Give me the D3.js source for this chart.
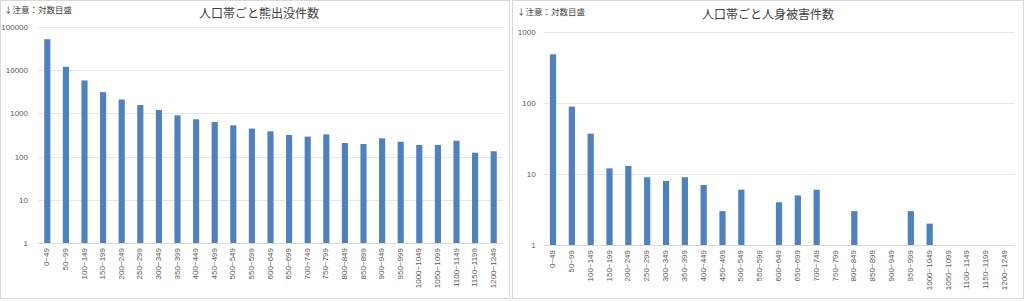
<!DOCTYPE html>
<html>
<head>
<meta charset="utf-8">
<script src="https://cdn.jsdelivr.net/npm/d3@7"></script>
<style>
  html, body { margin: 0; padding: 0; background: #fff; }
  svg { display: block; }
  text { font-family: "Noto Sans CJK JP", "Noto Sans", sans-serif; }
</style>
</head>
<body>
<svg id="chart" width="1024" height="301"></svg>
<script>
const categories = ["0~49","50~99","100~149","150~199","200~249","250~299","300~349","350~399","400~449","450~499","500~549","550~599","600~649","650~699","700~749","750~799","800~849","850~899","900~949","950~999","1000~1049","1050~1099","1100~1149","1150~1199","1200~1249"];
const bearSightings = [52000,12000,5800,3100,2100,1560,1200,900,730,630,530,445,385,316,290,327,206,196,265,221,186,186,233,123,133];
const humanInjuries = [485,89,37,12,13,9,8,9,7,3,6,null,4,5,6,null,3,null,null,3,2,null,null,null,null];
const leftTicks = [1,10,100,1000,10000,100000];
const rightTicks = [1,10,100,1000];
const leftTitle = "人口帯ごと熊出没件数";
const rightTitle = "人口帯ごと人身被害件数";
const noteText = "↓注意：対数目盛";

const svg = d3.select("#chart");

function panel(cfg) {
  const g = svg.append("g");
  g.append("rect")
    .attr("x", cfg.px + 0.5).attr("y", 0.5)
    .attr("width", cfg.pw - 1).attr("height", 298)
    .attr("fill", "#fff").attr("stroke", "#d9d9d9").attr("stroke-width", 1);

  const x = d3.scaleBand().domain(categories).range([cfg.x0, cfg.x1])
    .paddingInner(0.67).paddingOuter(0.335);
  const y = d3.scaleLog().domain([1, cfg.ymax]).range([cfg.y0, cfg.y1]);

  // gridlines
  g.append("g").selectAll("line").data(cfg.ticks.slice(1)).join("line")
    .attr("x1", cfg.x0).attr("x2", cfg.x1)
    .attr("y1", d => Math.round(y(d)) + 0.5).attr("y2", d => Math.round(y(d)) + 0.5)
    .attr("stroke", "#e6e6e6").attr("stroke-width", 1);

  // y axis
  const ya = g.append("g").attr("transform", `translate(${cfg.x0 - cfg.labelGap},0)`)
    .call(d3.axisLeft(y).tickValues(cfg.ticks).tickFormat(d3.format("d")).tickSize(0).tickPadding(0));
  ya.select(".domain").remove();
  ya.selectAll("text").attr("fill", "#595959").style("font-size", "8px")
    .style("font-family", "'Liberation Sans Narrow', 'Liberation Sans', sans-serif");

  // bars
  g.append("g").selectAll("rect").data(categories.map((c, i) => ({c, v: cfg.values[i]})).filter(d => d.v != null && d.v > 1))
    .join("rect")
    .attr("x", d => x(d.c)).attr("width", x.bandwidth())
    .attr("y", d => y(d.v)).attr("height", d => y(1) - y(d.v))
    .attr("fill", "#4f81bd");

  // x axis
  const xa = g.append("g").attr("transform", `translate(0,${cfg.y0})`)
    .call(d3.axisBottom(x).tickSize(0).tickPadding(0));
  xa.select(".domain").attr("stroke", "#d9d9d9").attr("d", `M${cfg.x0},0.5H${cfg.x1}`);
  xa.selectAll("text")
    .attr("fill", "#595959").style("font-size", "8px")
    .style("font-family", "'Liberation Sans Narrow', 'Liberation Sans', sans-serif")
    .attr("text-anchor", "end")
    .attr("dy", null)
    .attr("transform", "translate(0,5) rotate(-90)")
    .attr("x", 0).attr("y", 0)
    .attr("dominant-baseline", "middle");

  // title
  g.append("text").attr("x", cfg.tx).attr("y", cfg.ty)
    .attr("text-anchor", "middle").attr("dominant-baseline", "middle")
    .attr("fill", "#404040").style("font-size", "12px").text(cfg.title);
  // note
  g.append("text").attr("x", cfg.nx).attr("y", cfg.ny)
    .attr("dominant-baseline", "middle")
    .attr("fill", "#404040").style("font-size", "8.5px").text(noteText);
}

panel({px: 0, pw: 510, x0: 38, x1: 503, y0: 243, y1: 27, ymax: 100000, ticks: leftTicks,
       values: bearSightings, labelGap: 10, title: leftTitle, tx: 259, ty: 15, nx: 4, ny: 11});
panel({px: 512, pw: 512, x0: 543.6, x1: 1014.4, y0: 245, y1: 32, ymax: 1000, ticks: rightTicks,
       values: humanInjuries, labelGap: 8, title: rightTitle, tx: 768, ty: 16, nx: 517, ny: 13});
</script>
</body>
</html>
